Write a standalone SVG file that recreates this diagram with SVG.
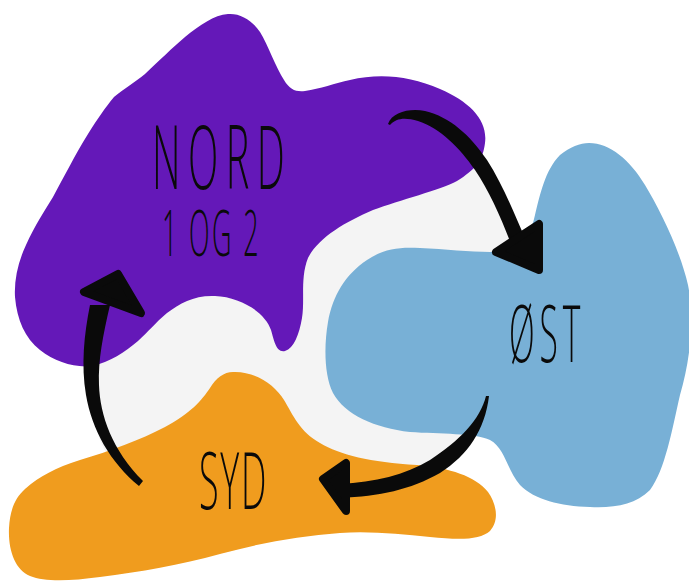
<svg xmlns="http://www.w3.org/2000/svg" width="689" height="583" viewBox="0 0 689 583">
<style>
.lbl{font-family:"Open Sans","DejaVu Sans",sans-serif;font-weight:300;fill:#0a0a0a}
.body{fill:#0a0a0a}
.head{fill:#0a0a0a;stroke:#0a0a0a;stroke-width:8;stroke-linejoin:round}
</style>
<rect width="689" height="583" fill="#ffffff"/>
<path id="bg" d="M 90 300 C 84 340 85 400 100 440 C 110 465 125 478 140 485 L 345 492 C 400 490 470 450 487 396 L 490 300 L 520 245 C 510 215 498 185 480 160 L 300 200 Z" fill="#f4f4f4"/>
<g id="syd">
<path d="M 233 372 C 255 371 275 385 284 400 C 293 415 300 432 320 443 C 340 455 370 462 417 465 C 450 468 475 476 488 492 C 496 503 500 520 490 531 C 480 540 460 540 430 537 C 400 534 370 531 340 533 C 300 536 260 543 220 554 C 180 565 140 572 100 577 C 70 581 45 582 30 576 C 15 570 8 550 9 528 C 10 510 15 498 25 489 C 40 476 55 468 80 460 C 110 451 140 440 165 427 C 190 414 202 400 210 388 C 216 378 224 372 233 372 Z" fill="#f09c1e"/>
<g transform="translate(199,509) scale(0.45,1)"><text class="lbl" x="0" y="0" font-size="80" textLength="150" lengthAdjust="spacing">SYD</text></g>
</g>
<g id="nord">
<path d="M 228 14 C 240 13 252 20 260 32 C 268 45 276 68 284 80 C 290 90 296 92 305 91 C 320 89 335 83 350 80 C 380 73 410 76 440 89 C 470 102 488 120 485 143 C 483 160 475 170 457 181 C 440 190 400 200 373 210 C 345 222 318 238 308 258 C 300 278 305 300 302 318 C 299 335 294 348 285 351 C 276 353 274 340 271 330 C 265 312 240 297 215 296 C 195 295 180 303 167 313 C 155 323 148 332 138 341 C 125 352 110 362 92 366 C 75 368 55 362 40 350 C 25 338 17 320 15 297 C 14 280 18 262 26 245 C 35 225 45 210 53 197 C 65 175 75 155 88 134 C 98 118 105 108 114 97 C 125 88 135 82 145 74 C 160 60 172 48 185 37 C 200 25 214 15 228 14 Z" fill="#6418b8"/>
<g transform="translate(152,189) scale(0.45,1)"><text class="lbl" x="0" y="0" font-size="88" textLength="295" lengthAdjust="spacing">NORD</text></g>
<g transform="translate(162,256) scale(0.42,1)"><text class="lbl" x="0" y="0" font-size="64" textLength="230" lengthAdjust="spacing">1 OG 2</text></g>
</g>
<g id="ost">
<path d="M 589 143 C 610 143 630 160 645 185 C 660 210 680 250 688 285 C 695 320 690 360 680 395 C 672 430 665 470 650 490 C 635 505 615 508 590 507 C 560 506 535 500 520 485 C 507 470 505 448 490 440 C 475 433 440 434 410 432 C 375 428 345 415 333 393 C 324 375 324 345 328 322 C 333 295 345 275 367 260 C 385 248 400 247 420 248 C 445 249 470 252 490 252 C 515 250 530 240 535 215 C 540 195 545 170 560 155 C 570 147 580 143 589 143 Z" fill="#78b0d6"/>
<g transform="translate(509,362) scale(0.42,1)"><text class="lbl" x="0" y="0" font-size="80" textLength="170" lengthAdjust="spacing">ØST</text></g>
</g>
<g id="connectors">
<path class="body" d="M 388 124 C 392 112 410 108 425 111 C 450 117 470 135 487 160 C 503 185 515 215 527 243 L 513 249 C 502 220 490 192 475 170 C 460 148 440 128 418 121 C 405 117 396 118 390 125 Z"/>
<path class="head" d="M 496 252 L 539 224 L 539 270 Z"/>
<path class="body" d="M 489 396 C 485 430 468 455 440 473 C 410 490 380 496 340 498 L 340 484 C 375 482 405 475 430 460 C 460 440 480 420 486 396 Z"/>
<path class="head" d="M 323 479 L 346 463 L 346 511 Z"/>
<path class="body" d="M 139 486 C 110 462 92 430 86 395 C 81 365 84 335 90 305 L 110 305 C 103 335 98 360 99 385 C 100 415 112 450 143 481 Z"/>
<path class="head" d="M 118 274 L 84 292 L 141 313 Z"/>
</g>
</svg>
